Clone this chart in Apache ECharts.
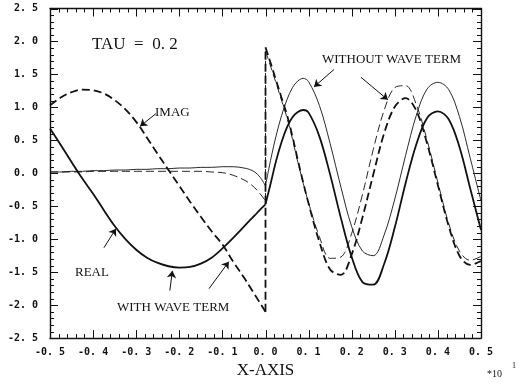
<!DOCTYPE html>
<html>
<head>
<meta charset="utf-8">
<script src="https://cdn.jsdelivr.net/npm/echarts/dist/echarts.min.js"></script>
<style>
  html, body { margin: 0; padding: 0; background: #fff; }
  #chart { width: 522px; height: 384px; }
</style>
</head>
<body>
<div id="chart"></div>
<script>
// Sample positions left and right of the discontinuity at x = 0
const xNeg = [-0.5, -0.475, -0.45, -0.425, -0.4, -0.375, -0.35, -0.325, -0.3, -0.275,
              -0.25, -0.225, -0.2, -0.175, -0.15, -0.125, -0.1, -0.075, -0.05,
              -0.0375, -0.025, -0.0125, 0];
const xPos = [0, 0.0125, 0.025, 0.0375, 0.05, 0.0625, 0.075, 0.0875, 0.1, 0.125,
              0.15, 0.175, 0.2, 0.225, 0.25, 0.275, 0.3, 0.325, 0.35, 0.375,
              0.4, 0.425, 0.45, 0.475, 0.5];

// REAL, with wave term
const realWaveNeg = [0.68, 0.43, 0.17, -0.08, -0.31, -0.56, -0.80, -1.00, -1.16, -1.28,
                     -1.36, -1.41, -1.43, -1.42, -1.37, -1.28, -1.14, -0.98, -0.81,
                     -0.72, -0.64, -0.55, -0.47];
const realWavePos = [-0.47, -0.14, 0.20, 0.48, 0.70, 0.85, 0.93, 0.96, 0.92, 0.56,
                     -0.02, -0.68, -1.27, -1.65, -1.69, -1.38, -0.82, -0.15, 0.44, 0.84,
                     0.94, 0.82, 0.40, -0.23, -0.86];

// IMAG, with wave term
const imagWaveNeg = [1.03, 1.15, 1.23, 1.27, 1.26, 1.21, 1.11, 0.97, 0.78, 0.54,
                     0.29, 0.05, -0.19, -0.43, -0.66, -0.88, -1.08, -1.34, -1.58,
                     -1.71, -1.84, -1.97, -2.10];
const imagWavePos = [1.91, 1.66, 1.40, 1.14, 0.88, 0.56, 0.20, -0.14, -0.46, -1.04,
                     -1.46, -1.54, -1.23, -0.67, -0.02, 0.60, 1.01, 1.14, 0.95, 0.45,
                     -0.18, -0.80, -1.25, -1.39, -1.33];

// REAL, without wave term
const realFreeNeg = [0.02, 0.02, 0.03, 0.03, 0.04, 0.04, 0.05, 0.05, 0.06, 0.06,
                     0.07, 0.07, 0.08, 0.08, 0.09, 0.09, 0.10, 0.10, 0.08,
                     0.06, 0.02, -0.06, -0.19];
const realFreePos = [-0.19, 0.22, 0.58, 0.88, 1.12, 1.30, 1.40, 1.44, 1.39, 1.03,
                     0.45, -0.21, -0.81, -1.18, -1.25, -0.94, -0.39, 0.27, 0.88, 1.28,
                     1.38, 1.27, 0.86, 0.23, -0.42];

// IMAG, without wave term
const imagFreeNeg = [0.02, 0.02, 0.02, 0.02, 0.03, 0.03, 0.03, 0.03, 0.03, 0.03,
                     0.03, 0.03, 0.03, 0.03, 0.03, 0.02, 0.01, -0.03, -0.10,
                     -0.15, -0.22, -0.31, -0.42];
const imagFreePos = [1.85, 1.61, 1.36, 1.10, 0.84, 0.52, 0.17, -0.15, -0.45, -0.96,
                     -1.29, -1.27, -0.91, -0.32, 0.36, 0.95, 1.30, 1.33, 1.04, 0.50,
                     -0.14, -0.76, -1.18, -1.32, -1.26];

// Axis ranges and tick positions
const xRange = [-0.5, 0.5], xStep = 0.1;
const yRange = [-2.5, 2.5], yStep = 0.5;
const xMajorTicks = [-0.5, -0.4, -0.3, -0.2, -0.1, 0, 0.1, 0.2, 0.3, 0.4, 0.5];
const yMajorTicks = [-2.5, -2.0, -1.5, -1.0, -0.5, 0, 0.5, 1.0, 1.5, 2.0, 2.5];
const minorDivisions = 5;

const INK = '#111';

function pairs(xs, ys) { return xs.map((x, i) => [x, ys[i]]); }
function jump(neg, pos) { return [[0, neg[neg.length - 1]], [0, pos[0]]]; }

function curve(data, width, dashed, smooth) {
  return {
    type: 'line', data: data, xAxisIndex: 0, yAxisIndex: 0,
    showSymbol: false, symbol: 'none', smooth: smooth, silent: true,
    lineStyle: { color: INK, width: width, type: dashed ? [8, 4] : 'solid' }
  };
}

// Tick list: [xValue, yValue, kind]; kind 0 = x major, 1 = x minor, 2 = y major, 3 = y minor
function tickList() {
  const out = [];
  xMajorTicks.forEach((v, i) => {
    out.push([v, 0, 0]);
    if (i < xMajorTicks.length - 1) {
      const d = (xMajorTicks[i + 1] - v) / minorDivisions;
      for (let k = 1; k < minorDivisions; k++) out.push([v + d * k, 0, 1]);
    }
  });
  yMajorTicks.forEach((v, i) => {
    out.push([0, v, 2]);
    if (i < yMajorTicks.length - 1) {
      const d = (yMajorTicks[i + 1] - v) / minorDivisions;
      for (let k = 1; k < minorDivisions; k++) out.push([0, v + d * k, 3]);
    }
  });
  return out;
}

// Inward ticks on all four sides of the frame
const frameTicks = {
  type: 'custom', xAxisIndex: 0, yAxisIndex: 0, silent: true, clip: false, z: 5,
  data: tickList(),
  renderItem: function (params, api) {
    const cs = params.coordSys;
    const kind = api.value(2);
    const p = api.coord([api.value(0), api.value(1)]);
    const len = (kind === 0 || kind === 2) ? 8 : 4;
    const style = { stroke: INK, lineWidth: 1 };
    if (kind < 2) {
      const x = Math.round(p[0]) + 0.5;
      return { type: 'group', children: [
        { type: 'line', shape: { x1: x, y1: cs.y + cs.height, x2: x, y2: cs.y + cs.height - len }, style: style },
        { type: 'line', shape: { x1: x, y1: cs.y, x2: x, y2: cs.y + len }, style: style }
      ] };
    }
    const y = Math.round(p[1]) + 0.5;
    return { type: 'group', children: [
      { type: 'line', shape: { x1: cs.x, y1: y, x2: cs.x + len, y2: y }, style: style },
      { type: 'line', shape: { x1: cs.x + cs.width, y1: y, x2: cs.x + cs.width - len, y2: y }, style: style }
    ] };
  }
};

const fmt = v => (Math.abs(v) < 1e-9 ? 0 : v).toFixed(1).replace('.', '. ');
const labelFont = { fontFamily: 'DejaVu Sans Mono', fontWeight: 'bold', fontSize: 10, color: INK };

function axisCommon(range, step, extra) {
  return Object.assign({
    type: 'value', min: range[0], max: range[1], interval: step,
    axisLine: { show: true, onZero: false, lineStyle: { color: INK, width: 1.4 } },
    axisTick: { show: false },
    minorTick: { show: false },
    splitLine: { show: false },
    minorSplitLine: { show: false }
  }, extra);
}

// Pointer arrows from the annotations to the curves, in data coordinates
const pointers = {
  type: 'lines', coordinateSystem: 'cartesian2d', xAxisIndex: 0, yAxisIndex: 0,
  silent: true, symbol: ['none', 'arrow'], symbolSize: 7,
  lineStyle: { color: INK, width: 1, type: 'solid', opacity: 1 },
  itemStyle: { color: INK },
  data: [
    { coords: [[-0.254, 0.906], [-0.291, 0.713]] },
    { coords: [[-0.375, -1.13], [-0.347, -0.84]] },
    { coords: [[-0.222, -1.78], [-0.216, -1.48]] },
    { coords: [[-0.131, -1.75], [-0.085, -1.34]] },
    { coords: [[0.159, 1.575], [0.1125, 1.31]] },
    { coords: [[0.2216, 1.456], [0.284, 1.114]] }
  ]
};

const series = [
  curve(pairs(xNeg, realWaveNeg), 1.8, false, 0.35),
  curve(pairs(xPos, realWavePos), 1.8, false, 0.35),
  curve(pairs(xNeg, imagWaveNeg), 1.8, true, 0.35),
  curve(jump(imagWaveNeg, imagWavePos), 1.8, true, false),
  curve(pairs(xPos, imagWavePos), 1.8, true, 0.35),
  curve(pairs(xNeg, realFreeNeg), 0.9, false, 0.35),
  curve(pairs(xPos, realFreePos), 0.9, false, 0.35),
  curve(pairs(xNeg, imagFreeNeg), 0.9, true, 0.35),
  curve(jump(imagFreeNeg, imagFreePos), 0.9, true, false),
  curve(pairs(xPos, imagFreePos), 0.9, true, 0.35),
  pointers,
  frameTicks
];

const serif = '"Liberation Serif", "Times New Roman", serif';
function note(text, x, y, size) {
  return { type: 'text', x: x, y: y, silent: true,
           style: { text: text, font: size + 'px ' + serif, fill: INK, align: 'left', verticalAlign: 'middle' } };
}

const chart = echarts.init(document.getElementById('chart'), null, { renderer: 'canvas' });
chart.setOption({
  animation: false,
  backgroundColor: '#fff',
  grid: { left: 50, right: 41, top: 8.5, bottom: 40 },
  xAxis: [
    axisCommon(xRange, xStep, {
      position: 'bottom',
      axisLabel: Object.assign({ formatter: fmt, margin: 9 }, labelFont),
      name: 'X-AXIS', nameLocation: 'middle', nameGap: 18,
      nameTextStyle: { fontFamily: 'Liberation Serif', fontSize: 17, color: INK }
    }),
    axisCommon(xRange, xStep, { position: 'top', axisLabel: { show: false } })
  ],
  yAxis: [
    axisCommon(yRange, yStep, {
      position: 'left',
      axisLabel: Object.assign({ formatter: fmt, margin: 12 }, labelFont)
    }),
    axisCommon(yRange, yStep, { position: 'right', axisLabel: { show: false } })
  ],
  series: series,
  graphic: [
    note('TAU  =  0. 2', 92, 45, 17),
    note('IMAG', 155, 113, 13),
    note('REAL', 75, 273, 13),
    note('WITH WAVE TERM', 117, 308, 13),
    note('WITHOUT WAVE TERM', 322, 60, 13),
    note('*10', 487, 374, 10),
    note('1', 512, 366, 8)
  ]
});
</script>
</body>
</html>
